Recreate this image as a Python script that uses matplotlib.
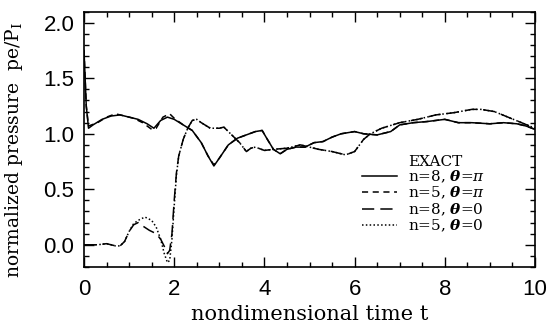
import numpy as np
import matplotlib
matplotlib.use("Agg")
import matplotlib.pyplot as plt
from matplotlib.lines import Line2D
from matplotlib.ticker import MultipleLocator

plt.rcParams['mathtext.fontset'] = 'dejavuserif'

# n=8, theta=pi (solid)
t_a = [0.0, 0.02, 0.05, 0.1, 0.2, 0.4, 0.6, 0.8, 1.0, 1.2, 1.4, 1.55, 1.7, 1.85, 2.0,
       2.2, 2.4, 2.6, 2.75, 2.88, 3.0, 3.2, 3.4, 3.6, 3.8, 3.95, 4.05, 4.2, 4.35, 4.5,
       4.7, 4.9, 5.1, 5.3, 5.5, 5.7, 6.0, 6.2, 6.5, 6.8, 7.0, 7.3, 7.6, 8.0, 8.3, 8.6,
       9.0, 9.3, 9.6, 9.8, 10.0]
p_a = [1.75, 1.55, 1.25, 1.05, 1.08, 1.13, 1.16, 1.17, 1.15, 1.13, 1.09, 1.05, 1.12, 1.15, 1.13,
       1.08, 1.03, 0.92, 0.80, 0.71, 0.78, 0.90, 0.96, 0.99, 1.02, 1.03, 0.96, 0.86, 0.82, 0.86,
       0.88, 0.88, 0.92, 0.93, 0.97, 1.00, 1.02, 1.00, 0.99, 1.02, 1.08, 1.10, 1.11, 1.13, 1.10, 1.10,
       1.09, 1.10, 1.09, 1.07, 1.04]

# n=5, theta=pi (dashed)
t_b = [0.0, 0.02, 0.05, 0.1, 0.3, 0.5, 0.7, 0.9, 1.1, 1.3, 1.5, 1.6, 1.75, 1.9, 2.0,
       2.2, 2.4, 2.6, 2.75, 2.88, 3.0, 3.2, 3.4, 3.6, 3.8, 3.95, 4.05, 4.2, 4.35, 4.5,
       4.7, 4.9, 5.1, 5.3, 5.5, 5.7, 6.0, 6.2, 6.5, 6.8, 7.0, 7.3, 7.6, 8.0, 8.3, 8.6,
       9.0, 9.3, 9.6, 9.8, 10.0]
p_b = [1.75, 1.55, 1.25, 1.07, 1.10, 1.15, 1.18, 1.16, 1.14, 1.10, 1.04, 1.05, 1.15, 1.18, 1.14,
       1.08, 1.03, 0.92, 0.80, 0.72, 0.78, 0.90, 0.96, 0.99, 1.02, 1.03, 0.96, 0.86, 0.82, 0.86,
       0.88, 0.88, 0.92, 0.93, 0.97, 1.00, 1.02, 1.00, 0.99, 1.02, 1.08, 1.10, 1.11, 1.13, 1.10, 1.10,
       1.09, 1.10, 1.09, 1.07, 1.04]

# n=8, theta=0 (long dash)
t_c = [0.0, 0.3, 0.5, 0.7, 0.8, 0.9, 1.0, 1.1, 1.2, 1.3, 1.45, 1.6, 1.7, 1.8, 1.85, 1.9,
       1.95, 2.0, 2.05, 2.1, 2.2, 2.3, 2.4, 2.5, 2.6, 2.8, 3.0, 3.1, 3.2, 3.3, 3.45, 3.6,
       3.7, 3.8, 4.0, 4.2, 4.5, 4.8, 5.0, 5.2, 5.5, 5.8, 6.0, 6.2, 6.35, 6.6, 7.0, 7.4,
       7.8, 8.2, 8.6, 8.8, 9.1, 9.4, 9.7, 10.0]
p_c = [0.0, 0.0, 0.01, -0.01, -0.01, 0.03, 0.12, 0.18, 0.20, 0.17, 0.13, 0.10, 0.05, -0.03, -0.08, -0.05,
       0.10, 0.40, 0.65, 0.80, 0.95, 1.05, 1.12, 1.13, 1.10, 1.05, 1.05, 1.06, 1.02, 0.98, 0.92, 0.84,
       0.87, 0.88, 0.85, 0.86, 0.87, 0.90, 0.88, 0.86, 0.84, 0.81, 0.84, 0.95, 1.00, 1.05, 1.10, 1.13,
       1.17, 1.19, 1.22, 1.22, 1.20, 1.15, 1.10, 1.05]

# n=5, theta=0 (dotted)
t_d = [0.0, 0.3, 0.5, 0.7, 0.8, 0.9, 1.0, 1.1, 1.2, 1.35, 1.5, 1.6, 1.7, 1.78, 1.85, 1.9,
       1.95, 2.0, 2.05, 2.1, 2.2, 2.3, 2.4, 2.5, 2.6, 2.8, 3.0, 3.1, 3.2, 3.3, 3.45, 3.6,
       3.7, 3.8, 4.0, 4.2, 4.5, 4.8, 5.0, 5.2, 5.5, 5.8, 6.0, 6.2, 6.35, 6.6, 7.0, 7.4,
       7.8, 8.2, 8.6, 8.8, 9.1, 9.4, 9.7, 10.0]
p_d = [0.0, 0.0, 0.01, -0.01, -0.01, 0.03, 0.12, 0.19, 0.22, 0.25, 0.22, 0.16, 0.05, -0.08, -0.16, -0.14,
       0.05, 0.35, 0.63, 0.80, 0.95, 1.05, 1.12, 1.13, 1.10, 1.05, 1.05, 1.06, 1.02, 0.98, 0.92, 0.84,
       0.87, 0.88, 0.85, 0.86, 0.87, 0.90, 0.88, 0.86, 0.84, 0.81, 0.84, 0.95, 1.00, 1.05, 1.10, 1.13,
       1.17, 1.19, 1.22, 1.22, 1.20, 1.15, 1.10, 1.05]

labels = [r'n=8, $\boldsymbol{\theta}$=$\pi$', r'n=5, $\boldsymbol{\theta}$=$\pi$',
          r'n=8, $\boldsymbol{\theta}$=0', r'n=5, $\boldsymbol{\theta}$=0']

fig = plt.figure(figsize=(5.48, 3.31), dpi=100)
ax = fig.add_axes([0.1533, 0.1934, 0.823, 0.7713])

lw = 1.1
ax.plot(t_a, p_a, color='k', lw=lw, ls='-')
ax.plot(t_b, p_b, color='k', lw=lw, ls=(0, (4, 3)))
ax.plot(t_c, p_c, color='k', lw=lw, ls=(0, (8, 4)))
ax.plot(t_d, p_d, color='k', lw=lw, ls=(0, (1, 1.5)))

ax.set_xlim(0, 10)
ax.set_ylim(-0.2, 2.1)
ax.xaxis.set_major_locator(MultipleLocator(2))
ax.xaxis.set_minor_locator(MultipleLocator(0.5))
ax.yaxis.set_major_locator(MultipleLocator(0.5))
ax.yaxis.set_minor_locator(MultipleLocator(0.1))
ax.yaxis.set_major_formatter(matplotlib.ticker.FormatStrFormatter('%.1f'))
ax.tick_params(which='both', direction='in', top=True, right=True, width=1)
ax.tick_params(which='major', length=7, labelsize=16)
ax.tick_params(axis='x', which='major', pad=9)
ax.tick_params(axis='y', which='major', pad=7)
ax.tick_params(which='minor', length=3.5)
for lab in ax.get_xticklabels() + ax.get_yticklabels():
    lab.set_family('Liberation Sans')
for s in ax.spines.values():
    s.set_linewidth(1.2)

ax.set_xlabel('nondimensional time t', family='DejaVu Serif', fontsize=15, labelpad=3)
ax.set_ylabel(r'normalized pressure  pe/P$_\mathrm{I}$', family='DejaVu Serif', fontsize=13.5)
ax.yaxis.set_label_coords(-0.13, 0.46)

handles = [Line2D([], [], color='none'),
           Line2D([], [], color='k', lw=lw, ls='-'),
           Line2D([], [], color='k', lw=lw, ls=(0, (4, 3))),
           Line2D([], [], color='k', lw=lw, ls=(0, (8, 4))),
           Line2D([], [], color='k', lw=lw, ls=(0, (1, 1.5)))]
leg = ax.legend(handles, ['EXACT'] + labels, loc='upper left', bbox_to_anchor=(0.6, 0.47),
                frameon=False, prop={'family': 'DejaVu Serif', 'size': 11},
                handlelength=2.3, handletextpad=0.7, labelspacing=0.0, borderpad=0)

fig.savefig('out.png', dpi=100)
